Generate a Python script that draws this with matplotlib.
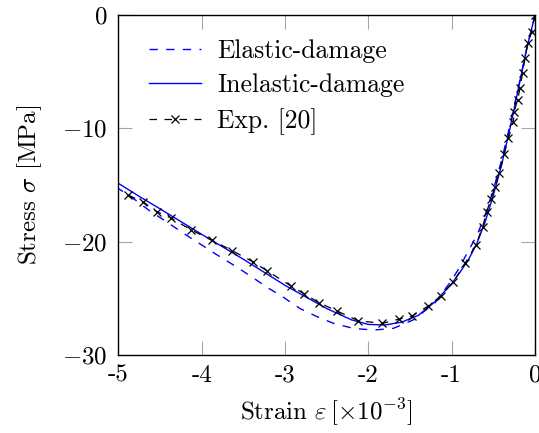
import matplotlib
matplotlib.use("Agg")
import matplotlib.pyplot as plt

plt.rcParams['font.family'] = ['cmr10', 'DejaVu Serif']
plt.rcParams['mathtext.fontset'] = 'cm'
plt.rcParams['axes.unicode_minus'] = False
plt.rcParams['font.size'] = 18

# elastic-damage model (dashed)
el_strain = [0, -0.1, -0.2, -0.3, -0.4, -0.5, -0.6, -0.7, -0.8, -0.9, -1.0, -1.2, -1.46, -1.7,
             -1.94, -2.18, -2.42, -2.62, -2.82, -3.02, -3.22, -3.42, -3.62, -3.83, -4.03, -4.22,
             -4.42, -4.62, -4.8, -5.0]
el_stress = [0, -3.0, -6.4, -9.7, -12.8, -15.4, -17.7, -19.5, -20.8, -22.2, -23.4, -25.4, -26.9, -27.65,
             -27.8, -27.65, -27.2, -26.6, -25.9, -24.9, -24.0, -23.0, -22.05, -21.1, -20.15, -19.25,
             -18.25, -17.3, -16.3, -15.3]

# inelastic-damage model (solid)
inel_strain = [0, -0.1, -0.2, -0.3, -0.4, -0.5, -0.6, -0.7, -0.8, -0.9, -1.0, -1.2, -1.4, -1.6,
               -1.8, -2.0, -2.2, -2.5, -3.0, -3.5, -4.0, -4.5, -4.75, -5.0]
inel_stress = [0, -3.0, -6.5, -10.0, -13.2, -15.9, -18.3, -20.2, -21.6, -22.7, -23.7, -25.3, -26.5, -27.1,
               -27.35, -27.3, -26.9, -25.9, -23.85, -21.55, -19.35, -17.1, -16.0, -14.85]

# experiment [20]
exp_strain = [0, -0.04, -0.09, -0.12, -0.15, -0.18, -0.21, -0.25, -0.26, -0.32, -0.37, -0.43, -0.48,
              -0.53, -0.58, -0.63, -0.71, -0.84, -0.98, -1.13, -1.28, -1.48, -1.63, -1.83, -2.12,
              -2.38, -2.59, -2.77, -2.93, -3.21, -3.38, -3.63, -3.88, -4.13, -4.37, -4.54, -4.70, -4.88]
exp_stress = [0, -1.47, -2.5, -3.82, -5.15, -6.47, -7.5, -8.53, -9.42, -10.88, -12.27, -13.97, -15.15,
              -16.24, -17.36, -18.74, -20.3, -21.92, -23.54, -24.8, -25.68, -26.57, -26.83, -27.2, -26.98,
              -26.1, -25.4, -24.6, -23.9, -22.6, -21.8, -20.8, -19.86, -18.95, -17.9, -17.35, -16.5, -15.9]

xticks = [-5, -4, -3, -2, -1, 0]
xtick_labels = ['-5', '-4', '-3', '-2', '-1', '0']
yticks = [-30, -20, -10, 0]
ytick_labels = ['$-30$', '$-20$', '$-10$', '$0$']

fig = plt.figure(figsize=(5.39, 4.33), dpi=100)
ax = fig.add_axes([0.2195, 0.1801, 0.7731, 0.7853])

ax.plot(el_strain, el_stress, color='blue', lw=1.0, dashes=(6, 6), label='Elastic-damage')
ax.plot(inel_strain, inel_stress, color='blue', lw=1.0, label='Inelastic-damage')
ax.plot(exp_strain, exp_stress, color='black', lw=0.9, dashes=(6, 6), marker='x',
        markersize=5.5, markeredgewidth=0.9, label='Exp. [20]')

ax.set_xlim(-5, 0)
ax.set_ylim(-30, 0)
ax.set_xticks(xticks)
ax.set_xticklabels(xtick_labels)
ax.set_yticks(yticks)
ax.set_yticklabels(ytick_labels)
ax.tick_params(direction='in', length=10, width=0.8, color='0.65', top=True, right=True,
               labelsize=18)
ax.tick_params(axis='x', pad=7)
ax.tick_params(axis='y', pad=8)
for s in ax.spines.values():
    s.set_linewidth(1.0)

ax.set_xlabel(r'Strain $\varepsilon\,[\times 10^{-3}]$', fontsize=18, labelpad=7)
ax.set_ylabel(r'Stress $\sigma$ [MPa]', fontsize=18, labelpad=13)

ax.legend(loc='upper left', bbox_to_anchor=(0, 1.02), frameon=False, numpoints=1,
          handlelength=2.0, handletextpad=0.65, labelspacing=0.42, borderaxespad=0.8,
          prop={'size': 18.5})

fig.savefig('out.png', dpi=100)
